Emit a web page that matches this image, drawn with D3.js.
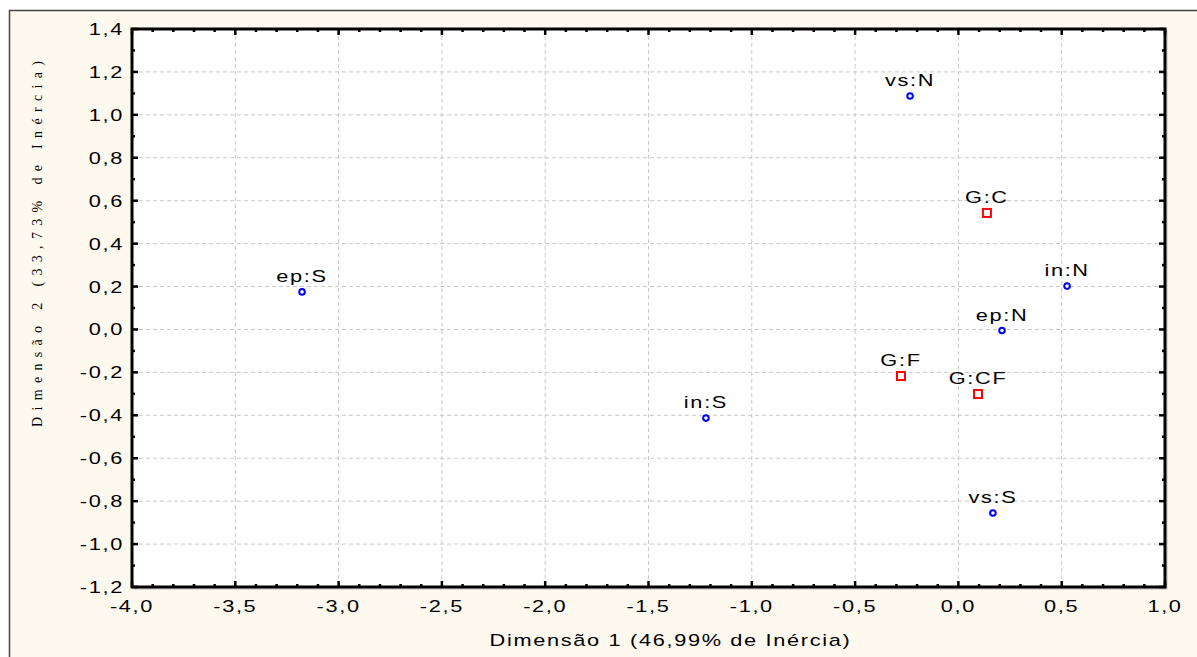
<!DOCTYPE html>
<html>
<head>
<meta charset="utf-8">
<script src="https://cdn.jsdelivr.net/npm/d3@7"></script>
<style>
  body { margin: 0; background: #fff; }
  svg { display: block; }
</style>
</head>
<body>
<div id="chart"></div>
<script>
// category points (blue circles)
var catLabels = ["vs:N", "in:N", "ep:N", "ep:S", "in:S", "vs:S"];
var catX = [-0.234, 0.526, 0.211, -3.177, -1.222, 0.167];
var catY = [1.088, 0.202, -0.005, 0.175, -0.413, -0.855];

// group points (red squares)
var grpLabels = ["G:C", "G:F", "G:CF"];
var grpX = [0.138, -0.278, 0.095];
var grpY = [0.543, -0.217, -0.301];

var xTicks = [-4, -3.5, -3, -2.5, -2, -1.5, -1, -0.5, 0, 0.5, 1];
var yTicks = [-1.2, -1, -0.8, -0.6, -0.4, -0.2, 0, 0.2, 0.4, 0.6, 0.8, 1, 1.2, 1.4];

var W = 1197, H = 657;
var margin = { top: 29, right: 32, bottom: 70, left: 132 };
var width = W - margin.left - margin.right,
    height = H - margin.top - margin.bottom;

var svg = d3.select("#chart").append("svg")
    .attr("width", W)
    .attr("height", H);

// outer frame
svg.append("rect")
    .attr("x", 9.5).attr("y", 10.5)
    .attr("width", W).attr("height", H)
    .attr("fill", "#fdf9ef")
    .attr("stroke", "#444")
    .attr("stroke-width", 1.5);

var g = svg.append("g")
    .attr("transform", "translate(" + margin.left + "," + margin.top + ")");

var x = d3.scaleLinear().domain([-4, 1]).range([0, width]);
var y = d3.scaleLinear().domain([-1.2, 1.4]).range([height, 0]);

function fmt(v) {
    return d3.format(".1f")(v).replace("\u2212", "-").replace(".", ",");
}

// wide, spaced lettering like the original
var font = "'Liberation Sans', Arial, sans-serif";
function wideText(sel, px, py) {
    return sel
        .attr("transform", function (d, i) {
            return "translate(" + px(d, i) + "," + py(d, i) + ") scale(1.28,1)";
        })
        .style("font-family", font)
        .style("font-size", "17px")
        .style("letter-spacing", "1.3px");
}

// shadow + plot background
g.append("rect")
    .attr("x", 2).attr("y", 2)
    .attr("width", width).attr("height", height)
    .attr("fill", "none").attr("stroke", "#bbb").attr("stroke-width", 1);
g.append("rect")
    .attr("width", width).attr("height", height)
    .attr("fill", "#fff");

// grid
g.append("g").selectAll("line").data(xTicks.slice(1, -1)).enter().append("line")
    .attr("x1", d => x(d)).attr("x2", d => x(d))
    .attr("y1", 0).attr("y2", height)
    .attr("stroke", "#c8c8c8").attr("stroke-dasharray", "4,3");
g.append("g").selectAll("line").data(yTicks.slice(1, -1)).enter().append("line")
    .attr("y1", d => y(d)).attr("y2", d => y(d))
    .attr("x1", 0).attr("x2", width)
    .attr("stroke", "#c8c8c8").attr("stroke-dasharray", "4,3");

// inward ticks on all four sides
var xMinor = d3.range(-40, 11).map(d => d / 10);
var yMinor = d3.range(-12, 15).map(d => d / 10);

function tickLen(v) {
    return Math.abs(Math.round(v * 10) % 5) === 0 ? 6 : 3;
}
function tickLenY(v) {
    return Math.abs(Math.round(v * 10) % 2) === 0 ? 6 : 3;
}

var ticks = g.append("g").attr("stroke", "#000").attr("stroke-width", 2.5);
ticks.selectAll(".xb").data(xMinor).enter().append("line")
    .attr("x1", d => x(d)).attr("x2", d => x(d))
    .attr("y1", height).attr("y2", d => height - tickLen(d));
ticks.selectAll(".xt").data(xMinor).enter().append("line")
    .attr("x1", d => x(d)).attr("x2", d => x(d))
    .attr("y1", 0).attr("y2", d => tickLen(d));
ticks.selectAll(".yl").data(yMinor).enter().append("line")
    .attr("y1", d => y(d)).attr("y2", d => y(d))
    .attr("x1", 0).attr("x2", d => tickLenY(d));
ticks.selectAll(".yr").data(yMinor).enter().append("line")
    .attr("y1", d => y(d)).attr("y2", d => y(d))
    .attr("x1", width).attr("x2", d => width - tickLenY(d));

// frame of plot
g.append("rect")
    .attr("width", width).attr("height", height)
    .attr("fill", "none").attr("stroke", "#000").attr("stroke-width", 3);

// tick labels
wideText(g.append("g").selectAll("text").data(xTicks).enter().append("text"),
        d => x(d), () => height + 25)
    .attr("text-anchor", "middle")
    .text(fmt);
wideText(g.append("g").selectAll("text").data(yTicks).enter().append("text"),
        () => -8, d => y(d) + 6)
    .attr("text-anchor", "end")
    .text(fmt);

// axis titles
wideText(svg.append("text").datum(0),
        () => margin.left + width / 2 + 22, () => 646)
    .attr("text-anchor", "middle")
    .text("Dimensão 1 (46,99% de Inércia)");

svg.append("text")
    .attr("transform", "translate(42,244) rotate(-90)")
    .attr("text-anchor", "middle")
    .attr("textLength", 366).attr("lengthAdjust", "spacing")
    .style("font-family", "'Liberation Serif', 'DejaVu Serif', serif")
    .style("font-size", "14px")
    .text("Dimensão 2 (33,73% de Inércia)");

// points
var cats = catLabels.map((d, i) => ({ label: d, x: catX[i], y: catY[i] }));
var grps = grpLabels.map((d, i) => ({ label: d, x: grpX[i], y: grpY[i] }));

g.append("g").selectAll("circle").data(cats).enter().append("circle")
    .attr("cx", d => x(d.x)).attr("cy", d => y(d.y)).attr("r", 2.8)
    .attr("fill", "#fff").attr("stroke", "#0000ff").attr("stroke-width", 2);

g.append("g").selectAll("rect").data(grps).enter().append("rect")
    .attr("x", d => x(d.x) - 4).attr("y", d => y(d.y) - 4)
    .attr("width", 8).attr("height", 8)
    .attr("fill", "#fff").attr("stroke", "#ff0000").attr("stroke-width", 2);

wideText(g.append("g").selectAll("text").data(cats.concat(grps)).enter().append("text"),
        d => x(d.x), d => y(d.y) - 10)
    .attr("text-anchor", "middle")
    .text(d => d.label);
</script>
</body>
</html>
